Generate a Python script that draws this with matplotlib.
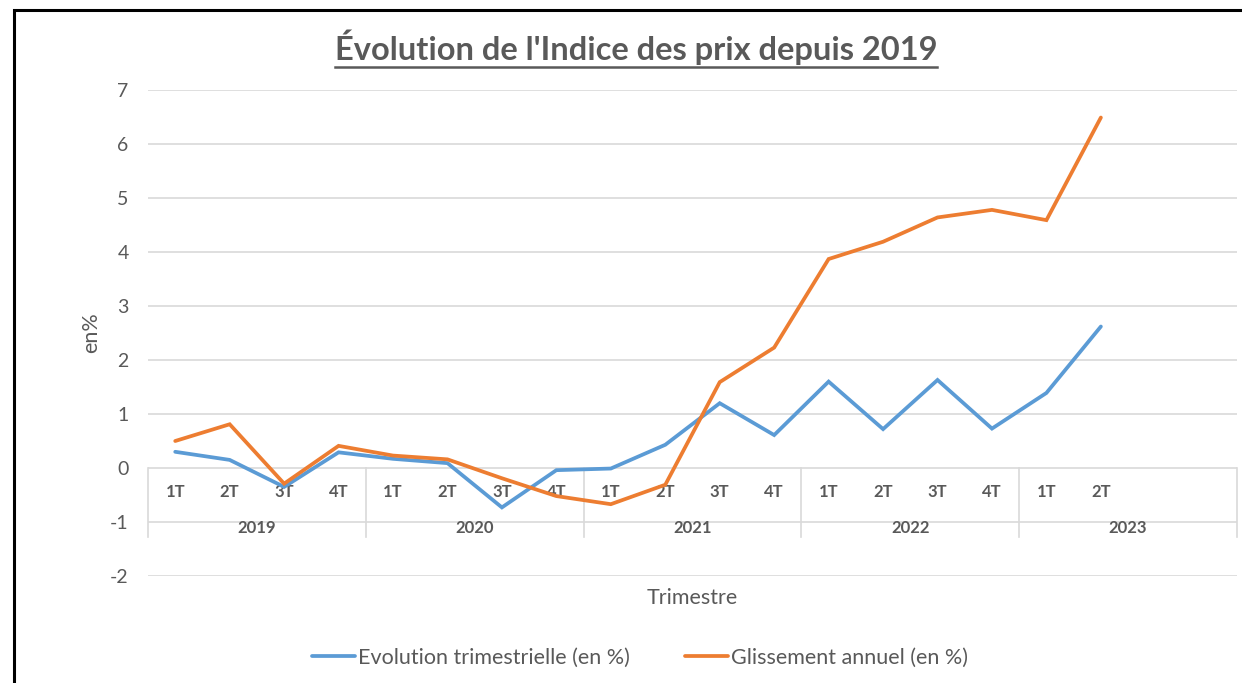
import matplotlib
matplotlib.use("Agg")
import matplotlib.pyplot as plt
from matplotlib.lines import Line2D
from matplotlib.patches import Rectangle

plt.rcParams['font.family'] = ['Lato', 'DejaVu Sans']
plt.rcParams['axes.unicode_minus'] = False

years = ['2019', '2020', '2021', '2022', '2023']
quarters = ['1T', '2T', '3T', '4T']
trimestrielle = [0.30, 0.15, -0.35, 0.29, 0.17, 0.09, -0.73, -0.04, -0.01,
                 0.43, 1.20, 0.61, 1.60, 0.72, 1.63, 0.73, 1.39, 2.62]
annuel = [0.50, 0.81, -0.29, 0.41, 0.23, 0.16, -0.19, -0.52, -0.67,
          -0.31, 1.59, 2.23, 3.87, 4.19, 4.64, 4.78, 4.59, 6.49]

grey = '#595959'
grid_c = '#D9D9D9'
blue = '#5B9BD5'
orange = '#ED7D31'

W, H = 1242, 683
fig = plt.figure(figsize=(W / 100, H / 100), dpi=100)
ax = fig.add_axes([148 / W, 1 - 576 / H, (1237 - 148) / W, (576 - 90) / H])

n_slots = len(years) * len(quarters)
x = list(range(len(trimestrielle)))

ax.set_xlim(-0.5, n_slots - 0.5)
ax.set_ylim(-2, 7)
ax.set_yticks(range(-2, 8))
for v in range(-2, 8):
    if v != 0:
        ax.axhline(v, color=grid_c, lw=1.2, zorder=0)

# category axis drawn as a table starting at y = 0
ax.axhline(0, color=grid_c, lw=1.2, zorder=1)
table_bottom = -1.28
for k in range(len(years) + 1):
    xv = k * len(quarters) - 0.5
    ax.plot([xv, xv], [0, table_bottom], color=grid_c, lw=1.2, zorder=1,
            clip_on=False)
for i in range(len(x)):
    ax.text(i, -0.45, quarters[i % 4], ha='center', va='center',
            fontsize=12, fontweight='bold', color=grey, zorder=2)
for k, yr in enumerate(years):
    ax.text(k * 4 + 1.5, -1.12, yr, ha='center', va='center',
            fontsize=12, fontweight='bold', color=grey, zorder=2)

ax.plot(x, trimestrielle, color=blue, lw=2.7, solid_joinstyle='miter',
        solid_capstyle='round', label='Evolution trimestrielle (en %)', zorder=3)
ax.plot(x, annuel, color=orange, lw=2.7, solid_joinstyle='miter',
        solid_capstyle='round', label='Glissement annuel (en %)', zorder=4)

for s in ax.spines.values():
    s.set_visible(False)
ax.set_xticks([])
ax.tick_params(axis='y', length=0, pad=14, labelsize=14, labelcolor=grey)
ax.set_ylabel('en%', fontsize=15.5, color=grey, labelpad=6)
ax.text(0.5, -0.045, 'Trimestre', transform=ax.transAxes, ha='center',
        va='center', fontsize=15.5, color=grey)

leg = fig.legend(loc='center', bbox_to_anchor=(640 / W, 1 - 658 / H), ncol=2,
                 frameon=False, fontsize=15.5, handlelength=2.0,
                 handletextpad=0.1, columnspacing=2.6)
for t in leg.get_texts():
    t.set_color(grey)

title = fig.text(636 / W, 1 - 47 / H, "Évolution de l'Indice des prix depuis 2019",
                 ha='center', va='center', fontsize=23.5, fontweight='bold',
                 color=grey)

# outer border
fig.patches.append(Rectangle((14 / W, -0.1), 1.2, 1 - 10 / H + 0.1,
                             transform=fig.transFigure, fill=False,
                             edgecolor='black', lw=2.2))

# underline the title
fig.canvas.draw()
bb = title.get_window_extent()
uy = bb.y0 - 2
fig.lines.append(Line2D([bb.x0 / W, bb.x1 / W], [uy / H, uy / H],
                        transform=fig.transFigure, color=grey, lw=1.8))

fig.savefig('out.png', dpi=100)
